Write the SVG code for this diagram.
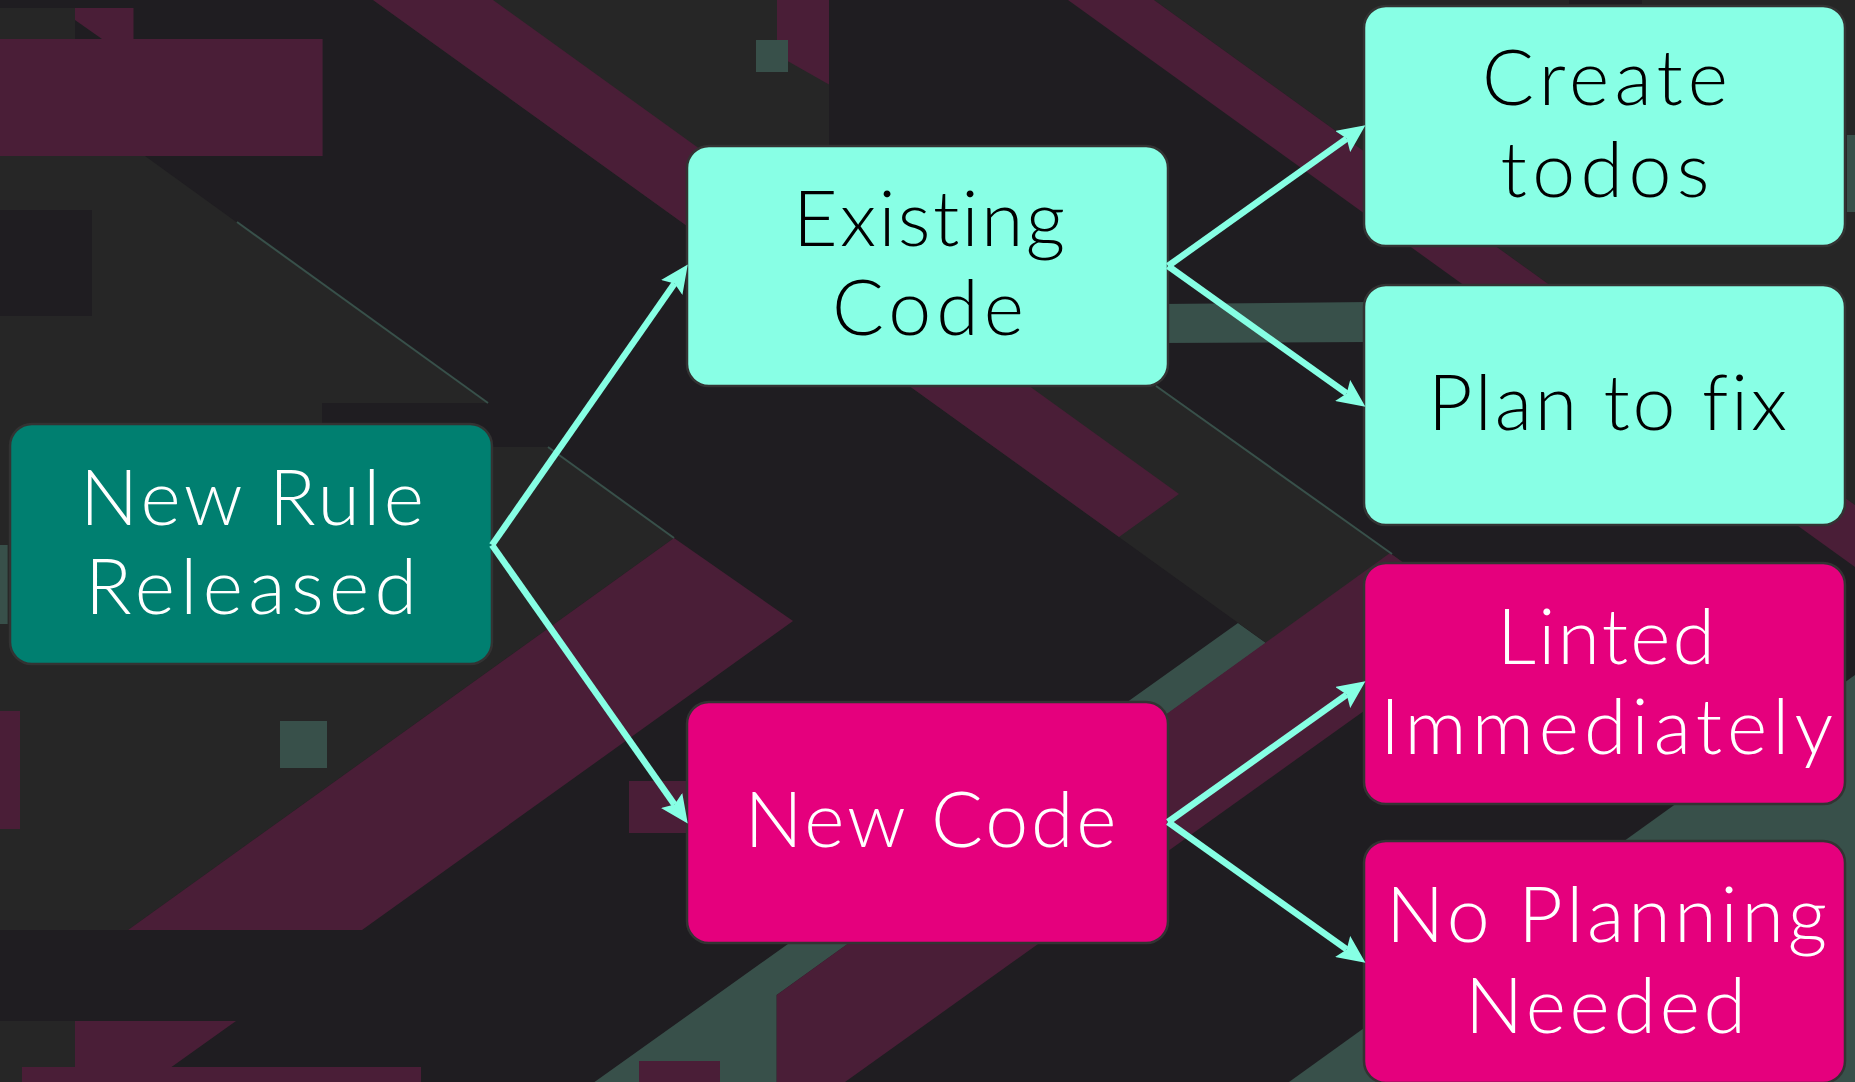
<svg xmlns="http://www.w3.org/2000/svg" width="1855" height="1082" viewBox="0 0 1855 1082">
  <defs>
    <style>
      .bg { fill: #1f1d21; }
      .gray { fill: #262626; }
      .maroon { fill: #4a1e37; }
      .green { fill: #38504a; }
      .dark { fill: #1f1d21; }
      .edge { stroke: #38504a; stroke-width: 2; fill: none; }
      .node rect { stroke: #333333; stroke-width: 2.5; }
      .teal rect { fill: #007f70; }
      .aqua rect { fill: #88ffe5; }
      .pink rect { fill: #e5007d; }
      .node text { font-family: "Lato", "Liberation Sans", sans-serif; font-weight: 300; font-size: 77px; text-anchor: middle; font-variant-ligatures: none; font-feature-settings: "liga" 0, "clig" 0; }
      .aqua text { fill: #000000; }
      .teal text, .pink text { fill: #ffffff; }
      .conn { stroke: #86ffe4; stroke-width: 6.5; fill: none; marker-end: url(#head); }
    </style>
    <marker id="head" markerUnits="userSpaceOnUse" markerWidth="28" markerHeight="26" refX="5" refY="13" orient="auto">
      <path d="M0,0 L28,13 L0,26 L5,13 Z" fill="#86ffe4"/>
    </marker>
  </defs>

  <!-- backdrop -->
  <g id="backdrop">
    <rect class="bg" x="0" y="0" width="1855" height="1082"/>
    <!-- gray fields -->
    <rect class="gray" x="0" y="8" width="75" height="31"/>
    <polygon class="gray" points="0,156 145,156 674,538 128,930 0,930"/>
    <polygon class="green" points="594.5,1082 1238,623 1266,643 776.7,995 776.7,1082"/>
    <polygon class="gray" points="373,0 829,0 829,149 1487,623 1362,712"/>
    <polygon class="gray" points="1154,0 1855,0 1855,505"/>
    <rect class="gray" x="0" y="1021" width="75" height="61"/>
    <!-- dark cut-outs -->
    <rect class="dark" x="0" y="210" width="92" height="106"/>
    <rect class="dark" x="322" y="403" width="226" height="44"/>
    <rect class="dark" x="1569" y="0" width="73" height="4"/>
    <!-- maroon shapes -->
    <polygon class="maroon" points="75,8 133.5,8 133.5,39 102,39 75,20"/>
    <rect class="maroon" x="0" y="39" width="322.6" height="117"/>
    <polygon class="maroon" points="373,0 493,0 1179,494 1119,537"/>
    <polygon class="maroon" points="777,0 829,0 829,84.5 777,55"/>
    <polygon class="maroon" points="1068,0 1154,0 1855,505 1855,567"/>
    <polygon class="maroon" points="128,930 674,538 793,621 362,930"/>
    <rect class="maroon" x="629" y="781" width="58" height="52"/>
    <rect class="maroon" x="0" y="711" width="20" height="118"/>
    <polygon class="maroon" points="75,1021 236,1021 171.5,1067 421,1067 421,1082 22,1082 22,1067 75,1067"/>
    <polygon class="maroon" points="776.7,1082 776.7,995 1390,553 1487,623 845,1082"/>
    <rect class="maroon" x="639" y="1061" width="81" height="21"/>
    <!-- green shapes -->
    <rect class="green" x="756" y="40" width="32" height="32"/>
    <rect class="green" x="280" y="721" width="47" height="47"/>
    <rect class="green" x="0" y="545" width="7.6" height="79"/>
    <polygon class="green" points="1160,304 1370,302 1370,342 1160,343"/>
    <rect class="green" x="1847" y="135" width="8" height="77"/>
    <polygon class="green" points="1289,1082 1855,675 1855,1082"/>
    <!-- thin edge highlights -->
    <line class="edge" x1="237" y1="222" x2="488" y2="403"/>
    <line class="edge" x1="548" y1="447" x2="674" y2="538"/>
    <line class="edge" x1="1156" y1="386" x2="1392" y2="554"/>
  </g>

  <!-- nodes -->
  <g id="node-new-rule" class="node teal">
    <rect x="10" y="424" width="482" height="240" rx="22"/>
    <text x="252" y="524.5" textLength="344" lengthAdjust="spacing">New Rule</text>
    <text x="251" y="614" textLength="332" lengthAdjust="spacing">Released</text>
  </g>
  <g id="node-existing-code" class="node aqua">
    <rect x="687" y="146" width="481" height="240" rx="22"/>
    <text x="929" y="246" textLength="272" lengthAdjust="spacing">Existing</text>
    <text x="928" y="335" textLength="192" lengthAdjust="spacing">Code</text>
  </g>
  <g id="node-new-code" class="node pink">
    <rect x="687" y="702" width="481" height="241" rx="22"/>
    <text x="930.5" y="847" textLength="372" lengthAdjust="spacing">New Code</text>
  </g>
  <g id="node-create-todos" class="node aqua">
    <rect x="1364" y="6" width="481" height="240" rx="22"/>
    <text x="1605" y="105" textLength="246" lengthAdjust="spacing">Create</text>
    <text x="1605" y="197" textLength="209" lengthAdjust="spacing">todos</text>
  </g>
  <g id="node-plan-to-fix" class="node aqua">
    <rect x="1364" y="285" width="481" height="240" rx="22"/>
    <text x="1607.5" y="430" textLength="359" lengthAdjust="spacing">Plan to fix</text>
  </g>
  <g id="node-linted" class="node pink">
    <rect x="1364" y="563" width="481" height="241" rx="22"/>
    <text x="1606" y="663.5" textLength="218" lengthAdjust="spacing">Linted</text>
    <text x="1606.5" y="754" textLength="453" lengthAdjust="spacing">Immediately</text>
  </g>
  <g id="node-no-planning" class="node pink">
    <rect x="1364" y="841" width="481" height="242" rx="22"/>
    <text x="1606.5" y="942" textLength="441" lengthAdjust="spacing">No Planning</text>
    <text x="1605.5" y="1033" textLength="281" lengthAdjust="spacing">Needed</text>
  </g>

  <!-- connectors -->
  <g id="connectors">
    <line class="conn" x1="492" y1="545" x2="674.6" y2="283.4"/>
    <line class="conn" x1="492" y1="545" x2="674.5" y2="804.6"/>
    <line class="conn" x1="1168" y1="266" x2="1346.7" y2="138.6"/>
    <line class="conn" x1="1168" y1="266" x2="1346.7" y2="393.4"/>
    <line class="conn" x1="1168" y1="822" x2="1346.7" y2="694.6"/>
    <line class="conn" x1="1168" y1="822" x2="1346.7" y2="949.4"/>
  </g>
</svg>
